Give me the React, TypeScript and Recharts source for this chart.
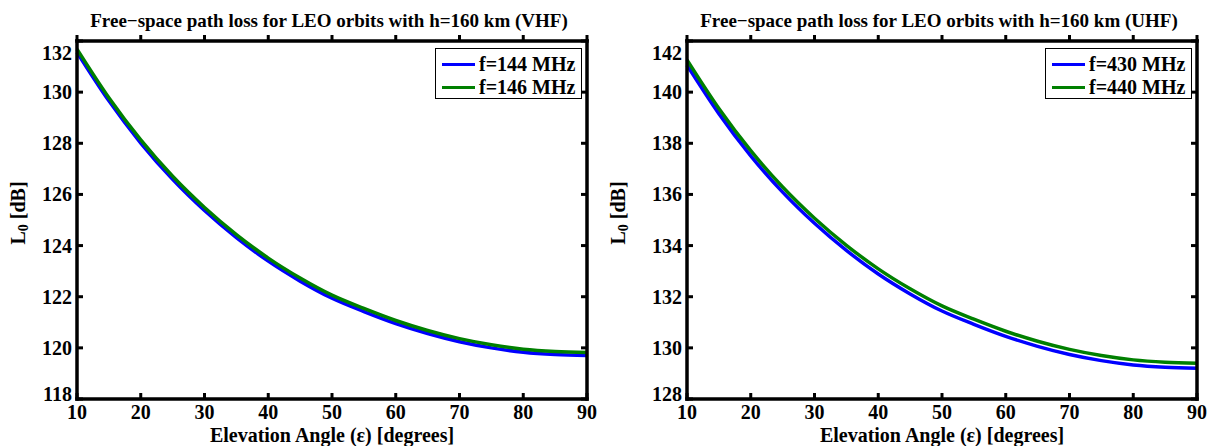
import React from 'react';
import { LineChart, Line, XAxis, YAxis, Legend, Label } from 'recharts';

const FONT = '"Liberation Serif", "Times New Roman", Times, serif';

const ANGLES = [10, 15, 20, 25, 30, 35, 40, 45, 50, 55, 60, 65, 70, 75, 80, 85, 90];
const ANGLE_TICKS = [10, 20, 30, 40, 50, 60, 70, 80, 90];

// VHF panel, L0 [dB]
const VHF_144 = [131.56, 129.66, 128.01, 126.59, 125.37, 124.31, 123.39, 122.61, 121.94, 121.42, 120.95, 120.56, 120.24, 120.0, 119.83, 119.74, 119.7];
const VHF_146 = [131.68, 129.78, 128.13, 126.71, 125.49, 124.43, 123.51, 122.73, 122.06, 121.54, 121.07, 120.68, 120.36, 120.12, 119.95, 119.86, 119.82];
const VHF_TICKS = [118, 120, 122, 124, 126, 128, 130, 132];

// UHF panel, L0 [dB]
const UHF_430 = [141.06, 139.16, 137.51, 136.09, 134.87, 133.81, 132.89, 132.11, 131.44, 130.92, 130.45, 130.06, 129.74, 129.5, 129.33, 129.24, 129.2];
const UHF_440 = [141.26, 139.36, 137.71, 136.29, 135.07, 134.01, 133.09, 132.31, 131.64, 131.12, 130.65, 130.26, 129.94, 129.7, 129.53, 129.44, 129.4];
const UHF_TICKS = [128, 130, 132, 134, 136, 138, 140, 142];

const BLUE = '#0000ff';
const GREEN = '#008000';

const H = 446;
const TOP = 41;
const BOTTOM_H = 47;

interface PanelProps {
  title: string;
  left: number;
  width: number;
  axisW: number;
  rightM: number;
  names: [string, string];
  s1: number[];
  s2: number[];
  yTicks: number[];
}

const AXIS_LINE = { stroke: '#000', strokeWidth: 3.5, strokeLinecap: 'square' as const };
const TICK_LINE = { stroke: '#000', strokeWidth: 3 };

// mirror axes (top / right) only get the tick marks
const noLabel = () => <g />;

function Panel({ title, left, width, axisW, rightM, names, s1, s2, yTicks }: PanelProps) {
  const data = ANGLES.map((a, i) => ({ angle: a, s1: s1[i], s2: s2[i] }));
  const yMin = yTicks[0];
  const yMax = yTicks[yTicks.length - 1];
  const plotL = axisW;
  const plotR = width - rightM;
  const cx = (plotL + plotR) / 2;

  const yTick = (p: any) => {
    const v = p.payload.value;
    // top label sits below its tick in the original, bottom one a bit above
    const y = v === yMax ? p.y + 12 : v === yMin ? p.y - 5 : p.y;
    return (
      <text x={p.x} y={y} dy="0.35em" textAnchor="end" fontFamily={FONT} fontWeight="bold" fontSize={20} fill="#000">
        {v}
      </text>
    );
  };
  const xTick = (p: any) => (
    <text x={p.x} y={p.y} dy="0.71em" textAnchor="middle" fontFamily={FONT} fontWeight="bold" fontSize={20} fill="#000">
      {p.payload.value}
    </text>
  );

  const legend = (props: any) => (
    <div
      style={{
        position: 'relative',
        width: 147,
        height: 51,
        boxSizing: 'border-box',
        border: '1.5px solid #000',
        background: '#fff',
        fontFamily: FONT,
        fontWeight: 'bold',
        fontSize: 20,
        color: '#000',
      }}
    >
      {(props.payload || [])
        .filter((it: any) => it.type !== 'none')
        .map((it: any, i: number) => (
          <div
            key={it.value}
            style={{ position: 'absolute', left: 6, top: 3 + i * 23, height: 24, display: 'flex', alignItems: 'center', whiteSpace: 'nowrap' }}
          >
            <span style={{ display: 'inline-block', width: 33, height: 3, background: it.color }} />
            <span style={{ marginLeft: 4, lineHeight: '24px' }}>{it.value}</span>
          </div>
        ))}
    </div>
  );

  return (
    <div style={{ position: 'absolute', left, top: 0, width, height: H }}>
      <LineChart width={width} height={H} data={data} margin={{ top: TOP - 1, right: rightM - 1, bottom: 0, left: 0 }}>
        <XAxis
          dataKey="angle"
          type="number"
          domain={[10, 90]}
          ticks={ANGLE_TICKS}
          height={BOTTOM_H}
          tickSize={-6}
          tickMargin={12}
          axisLine={AXIS_LINE}
          tickLine={TICK_LINE}
          tick={xTick}
        >
          <Label
            content={() => (
              <g>
                <text x={cx} y={442} textAnchor="middle" fontFamily={FONT} fontWeight="bold" fontSize={20} fill="#000">
                  Elevation Angle (ε) [degrees]
                </text>
                <text x={cx - 3} y={27} textAnchor="middle" fontFamily={FONT} fontWeight="bold" fontSize={19} fill="#000">
                  {title}
                </text>
              </g>
            )}
          />
        </XAxis>
        <XAxis
          xAxisId="top"
          dataKey="angle"
          type="number"
          orientation="top"
          domain={[10, 90]}
          ticks={ANGLE_TICKS}
          height={1}
          tickSize={6}
          axisLine={AXIS_LINE}
          tickLine={TICK_LINE}
          tick={noLabel}
        />
        <YAxis
          type="number"
          domain={[yMin, yMax]}
          ticks={yTicks}
          width={axisW}
          tickSize={-6}
          tickMargin={11}
          axisLine={AXIS_LINE}
          tickLine={TICK_LINE}
          tick={yTick}
        >
          <Label
            content={() => (
              <text
                x={18}
                y={213}
                transform="rotate(-90 18 213)"
                textAnchor="middle"
                dominantBaseline="central"
                fontFamily={FONT}
                fontWeight="bold"
                fontSize={20}
                fill="#000"
              >
                L<tspan fontSize={14} dy={5}>0</tspan>
                <tspan dy={-5}> [dB]</tspan>
              </text>
            )}
          />
        </YAxis>
        <YAxis
          yAxisId="right"
          orientation="right"
          type="number"
          domain={[yMin, yMax]}
          ticks={yTicks}
          width={1}
          tickSize={-6}
          axisLine={AXIS_LINE}
          tickLine={TICK_LINE}
          tick={noLabel}
        />
        <Legend
          layout="vertical"
          align="center"
          verticalAlign="middle"
          wrapperStyle={{ top: 48, left: plotR - 152, width: 147, height: 51 }}
          content={legend}
        />
        {/* hidden series so the mirror axes get a scale (and their tick marks) */}
        <Line
          xAxisId="top"
          yAxisId="right"
          type="monotone"
          dataKey="s1"
          stroke="none"
          legendType="none"
          dot={false}
          activeDot={false}
          isAnimationActive={false}
        />
        <Line type="monotone" dataKey="s1" name={names[0]} stroke={BLUE} strokeWidth={3.5} dot={false} isAnimationActive={false} />
        <Line type="monotone" dataKey="s2" name={names[1]} stroke={GREEN} strokeWidth={3.5} dot={false} isAnimationActive={false} />
      </LineChart>
    </div>
  );
}

export default function App() {
  return (
    <div style={{ position: 'absolute', left: 0, top: 0, width: 1212, height: H, background: '#fff' }}>
      <Panel
        title="Free−space path loss for LEO orbits with h=160 km (VHF)"
        left={0}
        width={600}
        axisW={77}
        rightM={13}
        names={['f=144 MHz', 'f=146 MHz']}
        s1={VHF_144}
        s2={VHF_146}
        yTicks={VHF_TICKS}
      />
      <Panel
        title="Free−space path loss for LEO orbits with h=160 km (UHF)"
        left={600}
        width={612}
        axisW={87}
        rightM={15}
        names={['f=430 MHz', 'f=440 MHz']}
        s1={UHF_430}
        s2={UHF_440}
        yTicks={UHF_TICKS}
      />
    </div>
  );
}
